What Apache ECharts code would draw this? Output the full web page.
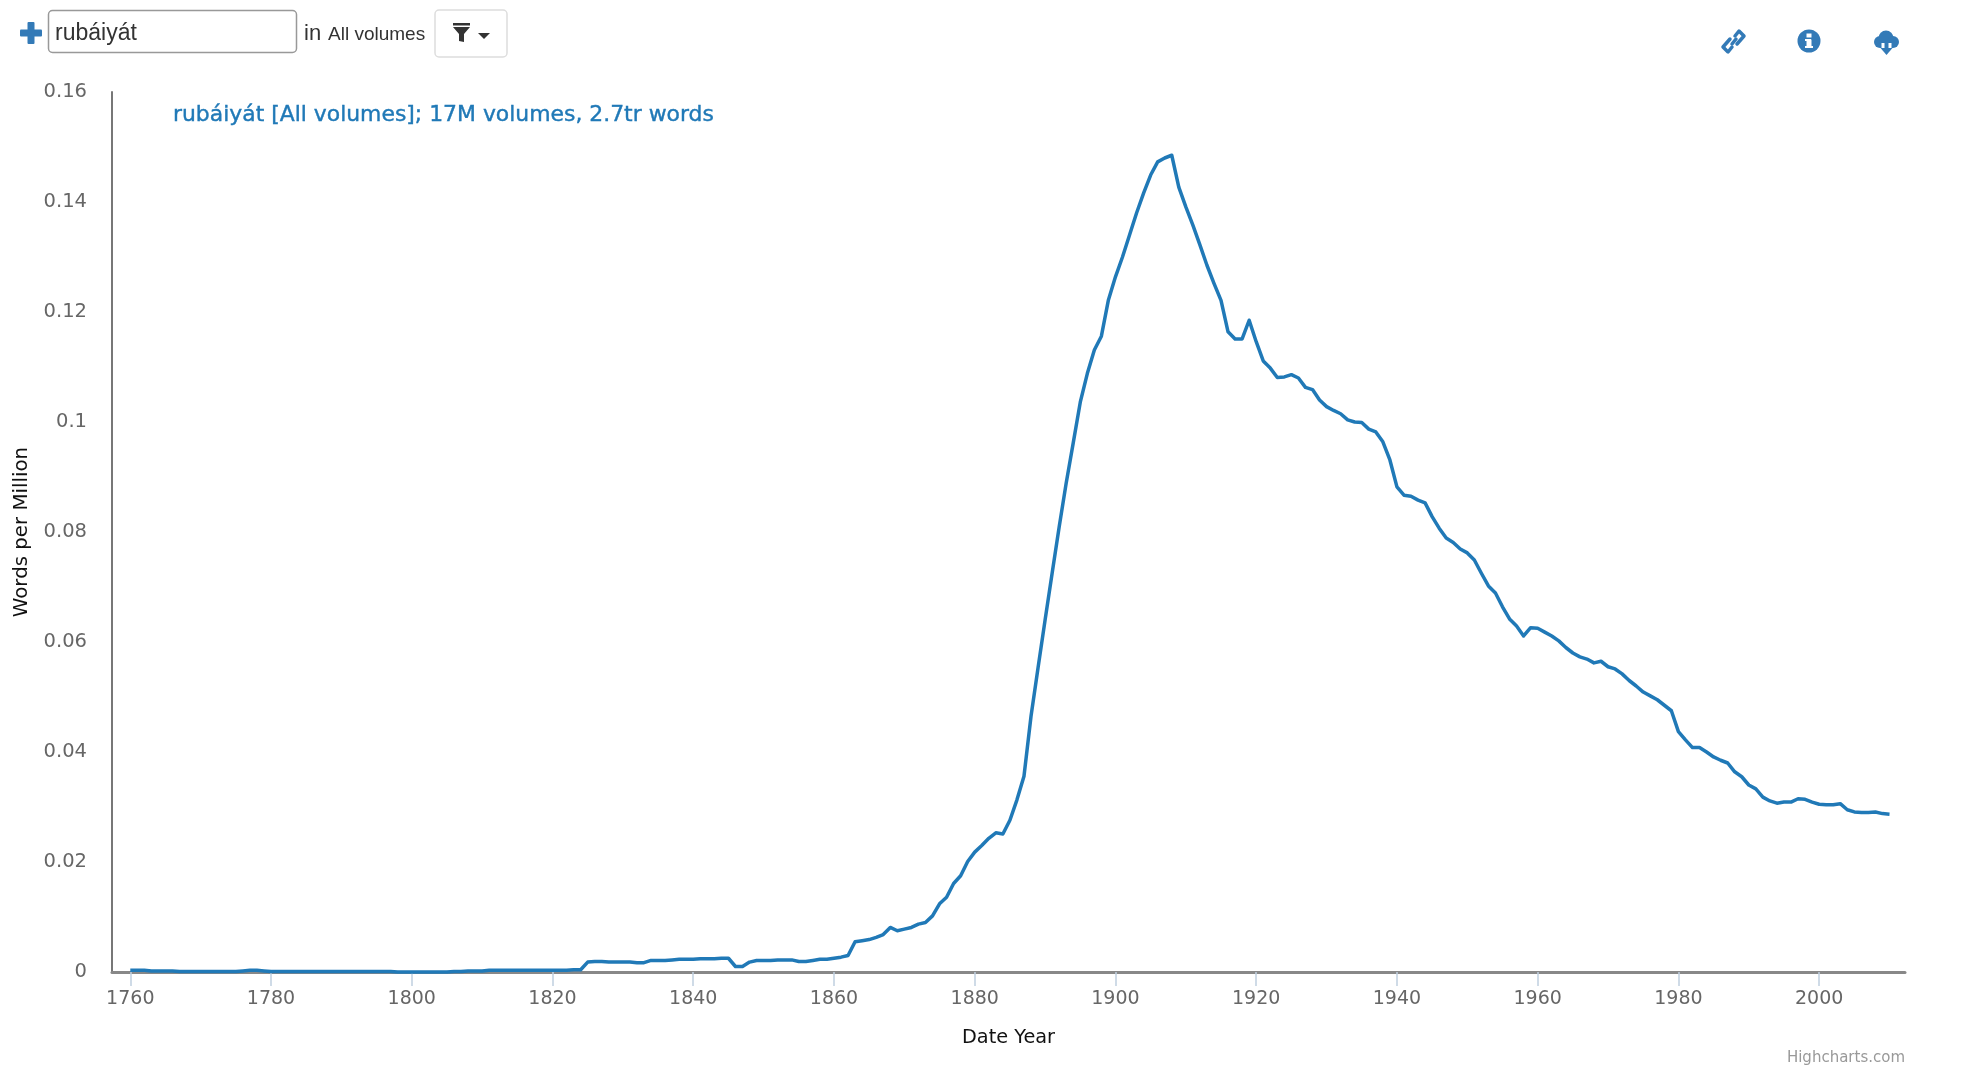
<!DOCTYPE html>
<html><head><meta charset="utf-8">
<style>html,body{margin:0;padding:0;background:#fff}#c{width:1984px;height:1068px}</style>
<script src="https://cdn.jsdelivr.net/npm/echarts@6/dist/echarts.min.js"></script>
</head><body><div id="c"></div>
<script>
const startYear = 1760;
const values = [
.0003,.0003,.0003,.0002,.0002,.0002,.0002,.0001,.0001,.0001,
.0001,.0001,.0001,.0001,.0001,.0001,.0002,.0003,.0003,.0002,
.0001,.0001,.0001,.0001,.0001,.0001,.0001,.0001,.0001,.0001,
.0001,.0001,.0001,.0001,.0001,.0001,.0001,.0001,.0000,.0000,
.0000,.0000,.0000,.0000,.0000,.0000,.0001,.0001,.0002,.0002,
.0002,.0003,.0003,.0003,.0003,.0003,.0003,.0003,.0003,.0003,
.0003,.0003,.0003,.0004,.0004,.0018,.0019,.0019,.0018,.0018,
.0018,.0018,.0017,.0017,.0021,.0021,.0021,.0022,.0023,.0023,
.0023,.0024,.0024,.0024,.0025,.0025,.0010,.0010,.0018,.0021,
.0021,.0021,.0022,.0022,.0022,.0019,.0019,.0021,.0023,.0023,
.0025,.0027,.0030,.0055,.0057,.0059,.0063,.0068,.0081,.0075,
.0078,.0081,.0087,.0090,.0102,.0124,.0136,.0161,.0175,.0201,
.0218,.0230,.0243,.0253,.0251,.0276,.0313,.0356,.0465,.0553,
.0640,.0725,.0809,.0889,.0962,.1036,.1088,.1131,.1156,.1222,
.1264,.1300,.1340,.1380,.1416,.1449,.1473,.1480,.1485,.1427,
.1391,.1358,.1322,.1285,.1252,.1221,.1164,.1151,.1151,.1185,
.1146,.1111,.1098,.1081,.1082,.1086,.1080,.1063,.1059,.1040,
.1028,.1021,.1015,.1004,.1000,.0999,.0987,.0982,.0964,.0931,
.0882,.0867,.0865,.0858,.0853,.0828,.0807,.0789,.0781,.0769,
.0762,.0749,.0725,.0702,.0689,.0664,.0642,.0629,.0611,.0626,
.0625,.0618,.0611,.0602,.0590,.0580,.0573,.0569,.0562,.0565,
.0555,.0551,.0542,.0530,.0520,.0509,.0502,.0495,.0485,.0475,
.0437,.0422,.0408,.0408,.0400,.0391,.0385,.0380,.0364,.0355,
.0340,.0333,.0318,.0311,.0307,.0309,.0309,.0315,.0314,.0309,
.0305,.0304,.0304,.0306,.0295,.0291,.0290,.0290,.0291,.0288,
.0287];
const tickYears = [1760,1780,1800,1820,1840,1860,1880,1900,1920,1940,1960,1980,2000];
const seriesName = 'rubáiyát [All volumes]; 17M volumes, 2.7tr words';
const xAxisTitle = 'Date Year';
const yAxisTitle = 'Words per Million';
const credit = 'Highcharts.com';
const searchTerm = 'rubáiyát';

const data = values.map((v,i)=>[startYear+i,v]);
const blue = '#337ab7';
const sans = '"Liberation Sans", Arial, sans-serif';
const dj = '"DejaVu Sans", sans-serif';

const chart = echarts.init(document.getElementById('c'));
chart.setOption({
  animation:false,
  backgroundColor:'#fff',
  title:{text:seriesName,left:168,top:97.5,textStyle:{color:'#2079b7',fontFamily:dj,fontSize:21.9,fontWeight:500,lineHeight:26,textBorderColor:'#2079b7',textBorderWidth:0.4}},
  grid:{left:112,top:92,width:1793,height:880,containLabel:false,outerBoundsMode:'none'},
  xAxis:{type:'value',min:1757.4,max:2012.2,
    name:xAxisTitle,nameLocation:'middle',nameGap:56,
    nameTextStyle:{color:'#111',fontFamily:dj,fontSize:19.3},
    axisLine:{show:true,onZero:false,lineStyle:{color:'#888',width:3}},
    axisTick:{show:true,length:14,customValues:tickYears,lineStyle:{color:'#c0d0e0',width:1.5}},
    axisLabel:{customValues:tickYears,color:'#666',fontFamily:dj,fontSize:19,margin:18,formatter:v=>String(v),showMinLabel:true,showMaxLabel:true},
    splitLine:{show:false}},
  yAxis:{type:'value',min:0,max:0.16,interval:0.02,
    name:yAxisTitle,nameLocation:'middle',nameGap:80,nameRotate:90,
    nameTextStyle:{color:'#111',fontFamily:dj,fontSize:19.8},
    axisLine:{show:true,lineStyle:{color:'#777',width:2}},
    axisTick:{show:false},
    axisLabel:{color:'#666',fontFamily:dj,fontSize:19.5,margin:25,formatter:v=>String(v)},
    splitLine:{show:false}},
  series:[{type:'line',name:seriesName,data,showSymbol:false,symbol:'none',clip:false,
    lineStyle:{color:'#2079b7',width:3.5,join:'round'}}],
  graphic:{elements:[
    {type:'rect',shape:{x:20,y:29.5,width:22,height:7,r:1},style:{fill:blue}},
    {type:'rect',shape:{x:27.5,y:22,width:7,height:22,r:1},style:{fill:blue}},
    {type:'rect',shape:{x:48.5,y:10.5,width:248,height:42,r:4},style:{fill:'#fff',stroke:'#999',lineWidth:1.5}},
    {type:'text',x:55,y:34,style:{text:searchTerm,font:'23px '+sans,fill:'#333',verticalAlign:'middle'}},
    {type:'text',x:304,y:34,style:{text:'in',font:'22px '+sans,fill:'#333',verticalAlign:'middle'}},
    {type:'text',x:328,y:35,style:{text:'All volumes',font:'19px '+sans,fill:'#333',verticalAlign:'middle'}},
    {type:'rect',shape:{x:435,y:10,width:72,height:47,r:4},style:{fill:'#fff',stroke:'#ddd',lineWidth:1.5}},
    {type:'rect',shape:{x:453,y:23,width:17,height:2.5},style:{fill:'#333'}},
    {type:'polygon',shape:{points:[[453,27],[470,27],[464,34],[464,42],[459,41],[459,34]]},style:{fill:'#333'}},
    {type:'polygon',shape:{points:[[478,33],[490,33],[484,39]]},style:{fill:'#333'}},
    {type:'polyline',shape:{points:[[1735,36],[1739,31],[1744,36],[1737,44]]},style:{fill:'none',stroke:blue,lineWidth:3.5,lineJoin:'round',lineCap:'round'}},
    {type:'polyline',shape:{points:[[1732,47],[1728,52],[1723,47],[1730,39]]},style:{fill:'none',stroke:blue,lineWidth:3.5,lineJoin:'round',lineCap:'round'}},
    {type:'line',shape:{x1:1732,y1:44,x2:1736,y2:39},style:{stroke:blue,lineWidth:3.5,lineCap:'round'}},
    {type:'circle',shape:{cx:1809,cy:41,r:11.5},style:{fill:blue}},
    {type:'rect',shape:{x:1806.5,y:33.5,width:5,height:4},style:{fill:'#fff'}},
    {type:'rect',shape:{x:1806.5,y:39.5,width:5,height:7},style:{fill:'#fff'}},
    {type:'rect',shape:{x:1805,y:46,width:8,height:2},style:{fill:'#fff'}},
    {type:'rect',shape:{x:1805,y:39,width:6,height:2},style:{fill:'#fff'}},
    {type:'circle',shape:{cx:1880,cy:42,r:6},style:{fill:blue}},
    {type:'circle',shape:{cx:1886,cy:38,r:7.5},style:{fill:blue}},
    {type:'circle',shape:{cx:1893,cy:42,r:6},style:{fill:blue}},
    {type:'rect',shape:{x:1880,y:40,width:13,height:8},style:{fill:blue}},
    {type:'rect',shape:{x:1881.5,y:43,width:10,height:8},style:{fill:'#fff'}},
    {type:'rect',shape:{x:1884.5,y:43,width:4,height:6},style:{fill:blue}},
    {type:'polygon',shape:{points:[[1880.5,48],[1892.5,48],[1886.5,55]]},style:{fill:blue}},
    {type:'text',x:1905,y:1058,style:{text:credit,font:'15px '+dj,fill:'#999',align:'right',verticalAlign:'middle'}}
  ]}
});
</script></body></html>
